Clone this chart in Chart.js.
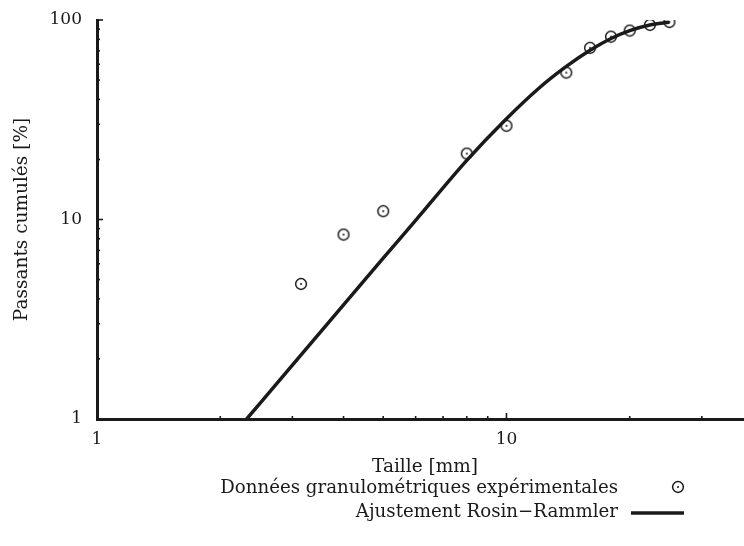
<!DOCTYPE html>
<html>
<head>
<meta charset="utf-8">
<script src="https://cdn.jsdelivr.net/npm/chart.js@4.4.1/dist/chart.umd.min.js"></script>
<style>
html,body{margin:0;padding:0;background:#fff;overflow:hidden;}
#wrap{position:relative;width:744px;height:546px;overflow:hidden;}
#box{position:absolute;left:0;top:0;width:760px;height:546px;}
</style>
</head>
<body>
<div id="wrap"><div id="box"><canvas id="c" width="760" height="546"></canvas></div></div>
<script>
// ---- data ----
const dataLabel = "Données granulométriques expérimentales";
const fitLabel = "Ajustement Rosin\u2212Rammler";
const xTitle = "Taille [mm]";
const yTitle = "Passants cumulés [%]";

const sizeMm = [3.15, 4, 5, 8, 10, 14, 16, 18, 20, 22.4, 25];
const passing = [4.75, 8.4, 11.0, 21.4, 29.5, 54.5, 72.5, 82.5, 88.5, 94.5, 97.7];

const fitSize = [2.32, 3, 4, 5, 6, 8, 10, 12, 14, 16, 18, 20, 22.4, 25];
const fitPassing = [1.0, 1.86, 3.73, 6.4, 9.9, 19.8, 32.0, 45.5, 58.5, 70.5, 80.8, 88.5, 94.4, 97.5];

const xMajorLabels = [1, 10];
const yMajorLabels = [1, 10, 100];
const xRange = [1, 40];
const yRange = [1, 100];

const FONT = "'DejaVu Serif', serif";
const INK = '#1a1a1a';

// marker: circle with a centre dot
function makeMarker(){
  const s = 14, cv = document.createElement('canvas');
  cv.width = s; cv.height = s;
  const g = cv.getContext('2d');
  g.strokeStyle = INK; g.lineWidth = 1.5;
  g.beginPath(); g.arc(s/2, s/2, 5.4, 0, Math.PI*2); g.stroke();
  g.fillStyle = INK;
  g.beginPath(); g.arc(s/2, s/2, 1.0, 0, Math.PI*2); g.fill();
  return cv;
}
const marker = makeMarker();

function logTicks(min, max){
  const t = [];
  for (let d = 1; d <= max; d *= 10){
    for (let m = 1; m <= 9; m++){
      const v = m*d;
      if (v >= min - 1e-9 && v <= max + 1e-9) t.push({value: v});
    }
  }
  return t;
}
function isMajor(v){ return Math.abs(Math.log10(v) - Math.round(Math.log10(v))) < 1e-9; }

const inwardTicks = {
  id: 'inwardTicks',
  afterDatasetsDraw(chart){
    const ctx = chart.ctx, xs = chart.scales.x, ys = chart.scales.y, a = chart.chartArea;
    ctx.save();
    ctx.strokeStyle = INK; ctx.lineWidth = 1.6;
    xs.ticks.forEach(t => {
      const px = xs.getPixelForValue(t.value);
      const len = isMajor(t.value) ? 6 : 3;
      ctx.beginPath(); ctx.moveTo(px, a.bottom); ctx.lineTo(px, a.bottom - len); ctx.stroke();
    });
    ys.ticks.forEach(t => {
      const py = ys.getPixelForValue(t.value);
      const len = isMajor(t.value) ? 6 : 3;
      ctx.beginPath(); ctx.moveTo(a.left, py); ctx.lineTo(a.left + len, py); ctx.stroke();
    });
    ctx.restore();
  }
};

const customLegend = {
  id: 'customLegend',
  afterDraw(chart){
    const ctx = chart.ctx;
    const ds = chart.data.datasets;
    const textRight = 618, rows = [488, 512];
    ctx.save();
    ctx.font = "18.2px " + FONT;
    ctx.fillStyle = INK;
    ctx.textAlign = 'right'; ctx.textBaseline = 'middle';
    ds.forEach((d, i) => {
      ctx.fillText(d.label, textRight, rows[i]);
      if (d.showLine){
        ctx.strokeStyle = INK; ctx.lineWidth = 3.5;
        ctx.beginPath(); ctx.moveTo(631, rows[i]+1); ctx.lineTo(684, rows[i]+1); ctx.stroke();
      } else {
        ctx.drawImage(marker, 678 - 7, rows[i] - 7 - 1);
      }
    });
    ctx.restore();
  }
};

new Chart(document.getElementById('c'), {
  type: 'scatter',
  data: {
    datasets: [
      {
        label: dataLabel,
        data: sizeMm.map((x, i) => ({x, y: passing[i]})),
        pointStyle: marker,
        pointRadius: 6,
        showLine: false,
        order: 1
      },
      {
        label: fitLabel,
        data: fitSize.map((x, i) => ({x, y: fitPassing[i]})),
        showLine: true,
        borderColor: INK,
        borderWidth: 3.5,
        pointRadius: 0,
        cubicInterpolationMode: 'monotone',
        order: 2
      }
    ]
  },
  options: {
    responsive: false,
    animation: false,
    devicePixelRatio: 1,
    layout: {padding: {top: 20, right: 0, bottom: 67, left: 0}},
    plugins: {legend: {display: false}, tooltip: {enabled: false}},
    scales: {
      x: {
        type: 'logarithmic', min: xRange[0], max: xRange[1],
        afterBuildTicks(s){ s.ticks = logTicks(xRange[0], xRange[1]); },
        afterFit(s){ s.height = 60; s.paddingLeft = 0; s.paddingRight = 0; },
        grid: {display: false, drawTicks: false},
        border: {display: true, color: INK, width: 3},
        ticks: {
          autoSkip: false, maxRotation: 0, padding: 10, color: INK,
          font: {family: FONT, size: 17},
          callback: v => xMajorLabels.includes(v) ? String(v) : ''
        },
        title: {display: true, text: xTitle, color: INK, font: {family: FONT, size: 18.5}, padding: {top: 0, bottom: 1}}
      },
      y: {
        type: 'logarithmic', min: yRange[0], max: yRange[1],
        afterBuildTicks(s){ s.ticks = logTicks(yRange[0], yRange[1]); },
        afterFit(s){ s.width = 97; s.paddingTop = 0; s.paddingBottom = 0; },
        grid: {display: false, drawTicks: false},
        border: {display: true, color: INK, width: 3},
        ticks: {
          autoSkip: false, padding: 15, color: INK,
          font: {family: FONT, size: 17},
          callback: v => yMajorLabels.includes(v) ? String(v) : ''
        },
        title: {display: true, text: yTitle, color: INK, font: {family: FONT, size: 18.5}, padding: {top: 11, bottom: 0}}
      }
    }
  },
  plugins: [inwardTicks, customLegend]
});
</script>
</body>
</html>
